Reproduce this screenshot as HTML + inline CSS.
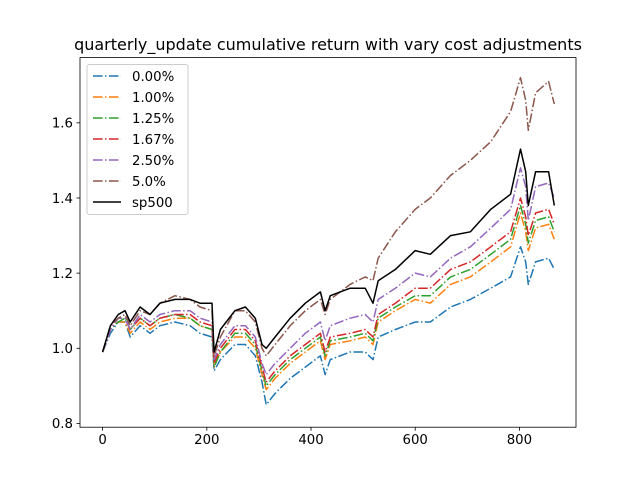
<!DOCTYPE html>
<html><head><meta charset="utf-8"><style>
body{margin:0;background:#fff}
svg{display:block;font-family:"DejaVu Sans","Liberation Sans",sans-serif}
</style></head><body>
<svg id="chart" width="640" height="480">
<rect width="640" height="480" fill="#fff"/>
<text x="328" y="50" text-anchor="middle" font-size="16">quarterly_update cumulative return with vary cost adjustments</text>
<g id="plot"></g>
<rect x="80" y="57.6" width="496" height="369.6" fill="none" stroke="#000" stroke-width="0.8"/>
<g id="axes"></g>
<g id="legend"></g>
</svg>
<script>
const xs=[0,15,30,43,53,72,91,110,139,168,187,210,214,226,254,274,293,306,314,331,360,389,418,427,437,475,504,519,529,562,600,629,668,706,745,783,802,812,817,831,856,867];
const s000=[0.99,1.04,1.07,1.07,1.03,1.06,1.04,1.06,1.07,1.06,1.04,1.03,0.94,0.97,1.01,1.01,0.98,0.91,0.85,0.88,0.92,0.95,0.98,0.93,0.97,0.99,0.99,0.97,1.03,1.05,1.07,1.07,1.11,1.13,1.16,1.19,1.27,1.23,1.17,1.23,1.24,1.21];
const s100=[0.99,1.05,1.07,1.07,1.04,1.07,1.05,1.07,1.08,1.08,1.06,1.05,0.95,0.99,1.03,1.03,1.00,0.93,0.89,0.92,0.96,0.99,1.02,0.97,1.01,1.02,1.03,1.01,1.07,1.10,1.13,1.12,1.17,1.19,1.23,1.27,1.36,1.31,1.26,1.32,1.33,1.29];
const s125=[0.99,1.05,1.07,1.08,1.05,1.08,1.06,1.08,1.09,1.08,1.06,1.05,0.95,0.99,1.04,1.04,1.01,0.94,0.90,0.93,0.97,1.00,1.03,0.98,1.02,1.03,1.04,1.02,1.08,1.11,1.14,1.14,1.19,1.21,1.25,1.29,1.38,1.33,1.28,1.34,1.35,1.31];
const s167=[0.99,1.05,1.08,1.08,1.05,1.08,1.06,1.08,1.09,1.09,1.07,1.06,0.96,1.00,1.05,1.05,1.02,0.95,0.91,0.94,0.98,1.01,1.04,0.99,1.03,1.04,1.05,1.03,1.09,1.12,1.16,1.16,1.21,1.23,1.27,1.31,1.40,1.35,1.30,1.36,1.37,1.33];
const s250=[0.99,1.05,1.08,1.08,1.05,1.09,1.07,1.09,1.10,1.10,1.08,1.07,0.97,1.01,1.06,1.06,1.03,0.96,0.93,0.96,1.00,1.04,1.07,1.02,1.06,1.08,1.09,1.07,1.13,1.16,1.20,1.19,1.24,1.27,1.32,1.37,1.48,1.43,1.34,1.43,1.44,1.40];
const s500=[0.99,1.06,1.08,1.09,1.06,1.10,1.09,1.12,1.14,1.13,1.11,1.10,0.98,1.03,1.10,1.10,1.07,1.00,0.98,1.01,1.06,1.10,1.13,1.09,1.13,1.17,1.19,1.18,1.24,1.31,1.37,1.40,1.46,1.50,1.55,1.63,1.72,1.66,1.58,1.68,1.71,1.65];
const sp500=[0.99,1.06,1.09,1.10,1.07,1.11,1.09,1.12,1.13,1.13,1.12,1.12,0.99,1.05,1.10,1.11,1.08,1.01,1.00,1.03,1.08,1.12,1.15,1.10,1.14,1.16,1.16,1.12,1.18,1.21,1.26,1.25,1.30,1.31,1.37,1.41,1.53,1.47,1.38,1.47,1.47,1.38];
const seriesNames=["0.00%","1.00%","1.25%","1.67%","2.50%","5.0%","sp500"];
const xTicks=[0,200,400,600,800];
const yTicks=[0.8,1.0,1.2,1.4,1.6];

const NS="http://www.w3.org/2000/svg";
const X0=80,X1=576,Y0=57.6,Y1=427.2,xmin=-43.4,xmax=908.6,ymin=0.79,ymax=1.7736;
function sx(v){return X0+(v-xmin)/(xmax-xmin)*(X1-X0);}
function sy(v){return Y1-(v-ymin)/(ymax-ymin)*(Y1-Y0);}
function mk(t,a,p){const e=document.createElementNS(NS,t);for(const k in a)e.setAttribute(k,a[k]);p.appendChild(e);return e;}
const all=[s000,s100,s125,s167,s250,s500,sp500];
const colors=["#1f77b4","#ff7f0e","#2ca02c","#d62728","#9467bd","#8c564b","#000"];
const plot=document.getElementById('plot');
all.forEach((s,i)=>{
  const d=s.map((v,j)=>(j?'L':'M')+sx(xs[j]).toFixed(1)+' '+sy(v).toFixed(1)).join('');
  const p=mk('path',{d:d,fill:'none',stroke:colors[i],'stroke-width':1.5,'stroke-linejoin':'round'},plot);
  if(i<6)p.setAttribute('stroke-dasharray','9.6 2.4 1.5 2.4');
  
  
});
const ax=document.getElementById('axes');
xTicks.forEach(t=>{
  const x=sx(t);
  const l=mk('line',{x1:x,x2:x,y1:Y1,y2:Y1+3.5,stroke:'#000','stroke-width':0.8},ax);
  
  
  const tx=mk('text',{x:x,y:Y1+17,'text-anchor':'middle','font-size':13.3},ax);
  tx.textContent=t;
  
  
});
yTicks.forEach(t=>{
  const y=sy(t);
  const l=mk('line',{x1:X0-3.5,x2:X0,y1:y,y2:y,stroke:'#000','stroke-width':0.8},ax);
  
  
  const tx=mk('text',{x:X0-7,y:y+4.8,'text-anchor':'end','font-size':13.3},ax);
  tx.textContent=t.toFixed(1);
  
  
});
const lg=document.getElementById('legend');
const box=mk('rect',{x:87,y:64.5,width:101,height:150,rx:2.5,fill:'#fff','fill-opacity':0.8,stroke:'#ccc','stroke-width':1},lg);


seriesNames.forEach((n,i)=>{
  const y=76+i*21;
  const l=mk('line',{x1:93,x2:121,y1:y,y2:y,stroke:colors[i],'stroke-width':1.5},lg);
  if(i<6)l.setAttribute('stroke-dasharray','9.6 2.4 1.5 2.4');
  
  
  const t=mk('text',{x:132,y:y+4.8,'font-size':13.3},lg);
  t.textContent=n;
  
  
});
</script>
</body></html>
